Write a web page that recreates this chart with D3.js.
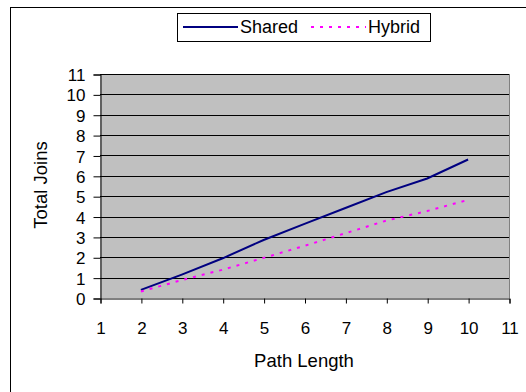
<!DOCTYPE html>
<html>
<head>
<meta charset="utf-8">
<script src="https://cdn.jsdelivr.net/npm/d3@7"></script>
<style>
  html, body { margin: 0; padding: 0; background: #fff; }
  svg { display: block; font-family: "Liberation Sans", Arial, sans-serif; }
</style>
</head>
<body>
<svg id="chart" width="526" height="392"></svg>
<script>
// Path length on the x axis, total joins per strategy
const pathLengths = [2, 3, 4, 5, 6, 7, 8, 9, 10];
const sharedJoins = [0.4, 1.15, 1.95, 2.85, 3.64, 4.42, 5.2, 5.87, 6.8];
const hybridJoins = [0.32, 0.88, 1.39, 1.97, 2.56, 3.18, 3.8, 4.27, 4.82];
const seriesNames = ["Shared", "Hybrid"];
const xTicks = [1, 2, 3, 4, 5, 6, 7, 8, 9, 10, 11];
const yTicks = [0, 1, 2, 3, 4, 5, 6, 7, 8, 9, 10, 11];

const FONT = "Liberation Sans, Arial, sans-serif";
const svg = d3.select("#chart");

// outer frame (runs off the right and bottom edges)
svg.append("rect")
  .attr("x", 10.5).attr("y", 7.5)
  .attr("width", 540).attr("height", 400)
  .attr("fill", "#fff").attr("stroke", "#000").attr("stroke-width", 1);

const plot = { left: 100, right: 509, top: 74, bottom: 298 };

const x = d3.scaleLinear().domain([1, 11]).range([plot.left, plot.right]);
const y = d3.scaleLinear().domain([0, 11]).range([plot.bottom, plot.top]);

// plot area
svg.append("rect")
  .attr("x", plot.left).attr("y", plot.top)
  .attr("width", plot.right - plot.left).attr("height", plot.bottom - plot.top)
  .attr("fill", "#c0c0c0");

// horizontal gridlines
svg.append("g")
  .selectAll("line")
  .data(yTicks.slice(1))
  .join("line")
  .attr("x1", plot.left).attr("x2", plot.right)
  .attr("y1", d => Math.round(y(d)) + 0.5).attr("y2", d => Math.round(y(d)) + 0.5)
  .attr("stroke", "#000").attr("stroke-width", 1);

// right edge of plot area
svg.append("line")
  .attr("x1", plot.right + 0.5).attr("x2", plot.right + 0.5)
  .attr("y1", plot.top).attr("y2", plot.bottom)
  .attr("stroke", "#808080");

// y axis
const yAxis = d3.axisLeft(y).tickValues(yTicks).tickSize(7).tickPadding(8).tickFormat(d3.format("d"));
const gy = svg.append("g")
  .attr("transform", `translate(${plot.left + 0.5},0.5)`)
  .call(yAxis);
gy.select(".domain").attr("stroke", "#000");
gy.selectAll(".tick line").attr("stroke", "#000");
gy.selectAll(".tick text").attr("font-size", 17).attr("fill", "#000")
  .attr("font-family", FONT).attr("dy", "0.36em");

// x axis
const xAxis = d3.axisBottom(x).tickValues(xTicks).tickSize(5).tickPadding(11).tickFormat(d3.format("d"));
const gx = svg.append("g")
  .attr("transform", `translate(0.5,${plot.bottom + 0.5})`)
  .call(xAxis);
gx.select(".domain").attr("stroke", "#000");
gx.selectAll(".tick line").attr("stroke", "#000");
gx.selectAll(".tick text").attr("font-size", 17).attr("fill", "#000")
  .attr("font-family", FONT).attr("y", 35).attr("dy", 0);

// axis titles
svg.append("text")
  .attr("transform", `translate(47,185) rotate(-90)`)
  .attr("text-anchor", "middle")
  .attr("font-size", 18.5)
  .text("Total Joins");

svg.append("text")
  .attr("x", 304)
  .attr("y", 367)
  .attr("text-anchor", "middle")
  .attr("font-size", 18.5)
  .text("Path Length");

// series
const line = d3.line().x(d => x(d[0])).y(d => y(d[1]));
const sharedPts = pathLengths.map((p, i) => [p, sharedJoins[i]]);
const hybridPts = pathLengths.map((p, i) => [p, hybridJoins[i]]);

svg.append("path")
  .datum(sharedPts)
  .attr("d", line)
  .attr("fill", "none")
  .attr("stroke", "#000080")
  .attr("stroke-width", 2);

svg.append("path")
  .datum(hybridPts)
  .attr("d", line)
  .attr("fill", "none")
  .attr("stroke", "#ff00ff")
  .attr("stroke-width", 2)
  .attr("stroke-dasharray", "3,6");

// legend
const legend = svg.append("g");
legend.append("rect")
  .attr("x", 177.5).attr("y", 13.5)
  .attr("width", 253).attr("height", 28)
  .attr("fill", "#fff").attr("stroke", "#000");

legend.append("line")
  .attr("x1", 183).attr("x2", 238).attr("y1", 27).attr("y2", 27)
  .attr("stroke", "#000080").attr("stroke-width", 2);
legend.append("text")
  .attr("x", 240).attr("y", 33)
  .attr("font-size", 18)
  .text(seriesNames[0]);

legend.append("line")
  .attr("x1", 311).attr("x2", 366).attr("y1", 27).attr("y2", 27)
  .attr("stroke", "#ff00ff").attr("stroke-width", 2)
  .attr("stroke-dasharray", "3,6");
legend.append("text")
  .attr("x", 368).attr("y", 33)
  .attr("font-size", 18)
  .text(seriesNames[1]);
</script>
</body>
</html>
